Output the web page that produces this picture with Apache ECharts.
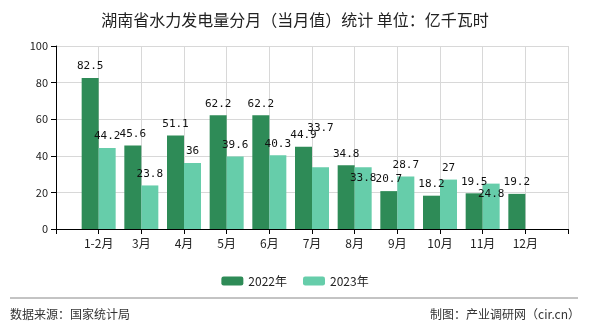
<!DOCTYPE html>
<html><head><meta charset="utf-8">
<script src="https://cdn.jsdelivr.net/npm/echarts@6/dist/echarts.min.js"></script>
<style>html,body{margin:0;padding:0;background:#fff}#c{width:590px;height:330px}</style>
</head><body><div id="c"></div>
<script>
const categories = ['1-2月','3月','4月','5月','6月','7月','8月','9月','10月','11月','12月'];
const values2022 = [82.5,45.6,51.1,62.2,62.2,44.9,34.8,20.7,18.2,19.5,19.2];
const values2023 = [44.2,23.8,36,39.6,40.3,33.7,33.8,28.7,27,24.8,null];
const seriesNames = ['2022年','2023年'];
const yTicks = [0,20,40,60,80,100];

// label vertical nudges (style only), as in the reference's overlap avoidance
const labelShift2023 = {5:-28, 6:22, 9:22};

const font = '"Noto Sans CJK SC", sans-serif';
const numFont = '"DejaVu Sans Mono", monospace';
const axisCats = [''].concat(categories, ['']);
const pad = arr => [null].concat(arr, [null]);
const d2022 = pad(values2022);
const d2023 = pad(values2023).map((v, i) => {
  const k = i - 1;
  if (v != null && labelShift2023[k] !== undefined) {
    return {value: v, label: {offset: [0, labelShift2023[k]]}};
  }
  return v;
});

const chart = echarts.init(document.getElementById('c'));
chart.setOption({
  animation:false,
  title:{text:'湖南省水力发电量分月（当月值）统计 单位：亿千瓦时',left:'center',top:7,
    textStyle:{fontSize:16,fontWeight:'normal',color:'#222',fontFamily:font}},
  legend:{data:seriesNames,top:270,left:'center',itemWidth:22,itemHeight:9,itemGap:16,
    textStyle:{fontSize:12,color:'#222',fontFamily:font}},
  grid:{left:56,right:22,top:46,bottom:101},
  xAxis:{type:'category',data:axisCats,boundaryGap:false,
    axisLine:{lineStyle:{color:'#000'}},
    axisTick:{show:true,lineStyle:{color:'#000'}},
    splitLine:{show:true,lineStyle:{color:'#d8d8d8'}},
    axisLabel:{fontSize:12,color:'#222',fontFamily:font,interval:0}},
  yAxis:{type:'value',min:yTicks[0],max:yTicks[yTicks.length-1],interval:20,
    axisLine:{show:true,lineStyle:{color:'#000'}},
    axisTick:{show:true,lineStyle:{color:'#000'}},
    splitLine:{lineStyle:{color:'#d8d8d8'}},
    axisLabel:{fontSize:11,color:'#222',fontFamily:font}},
  series:[
    {name:seriesNames[0],type:'bar',data:d2022,barGap:'0%',barWidth:17,
     itemStyle:{color:'#2E8B57'},
     label:{show:true,position:'top',distance:6,fontSize:11,color:'#111',fontFamily:numFont}},
    {name:seriesNames[1],type:'bar',data:d2023,barWidth:17,
     itemStyle:{color:'#66CDAA'},
     label:{show:true,position:'top',distance:6,fontSize:11,color:'#111',fontFamily:numFont}}
  ],
  graphic:[
    {type:'line',shape:{x1:10,y1:298,x2:578,y2:298},style:{stroke:'#888',lineWidth:1}},
    {type:'text',left:10,top:308,style:{text:'数据来源：国家统计局',fontSize:12,fill:'#333',fontFamily:font}},
    {type:'text',right:10,top:308,style:{text:'制图：产业调研网（cir.cn）',fontSize:12,fill:'#333',fontFamily:font}}
  ]
});
</script></body></html>
